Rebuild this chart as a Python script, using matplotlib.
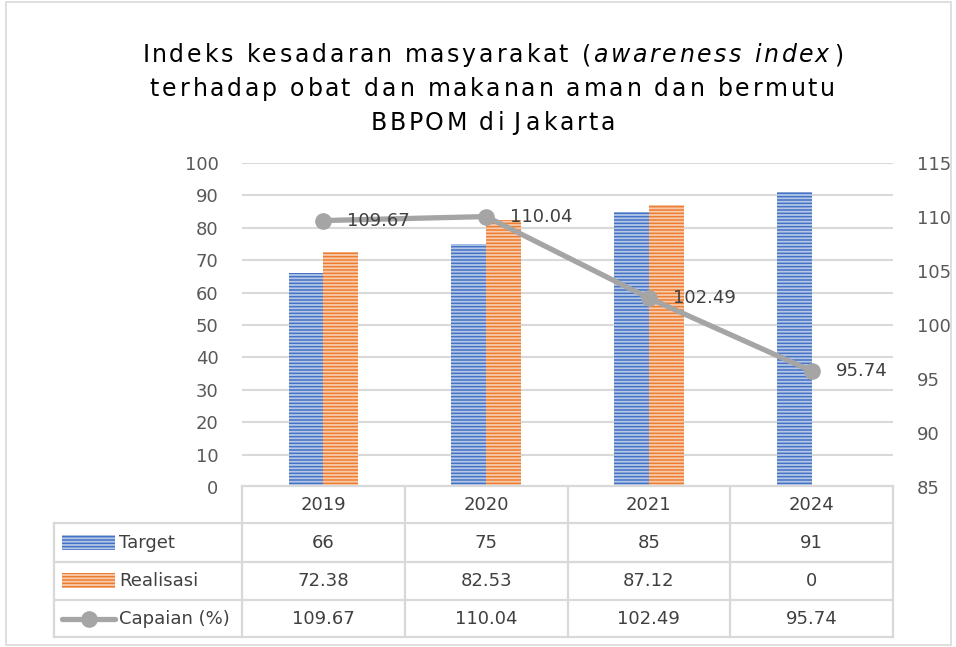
import matplotlib
matplotlib.use('Agg')
import matplotlib.pyplot as plt
from matplotlib.patches import Rectangle
from matplotlib.lines import Line2D
from matplotlib.font_manager import FontProperties, findfont
from matplotlib.ft2font import FT2Font

years = ['2019', '2020', '2021', '2024']
target = [66, 75, 85, 91]
realisasi = [72.38, 82.53, 87.12, 0]
capaian = [109.67, 110.04, 102.49, 95.74]
row_names = ['Target', 'Realisasi', 'Capaian (%)']
title_lines = [[('Indeks kesadaran masyarakat (', False), ('awareness index', True), (')', False)],
               [('terhadap obat dan makanan aman dan bermutu', False)],
               [('BBPOM di Jakarta', False)]]

W, H = 956, 647
BLUE, BLUE_H = '#4472C4', '#B4C7E7'
ORANGE, ORANGE_H = '#ED7D31', '#F8CBAD'
GRAY = '#A5A5A5'
GRID = '#D9D9D9'
TXT = '#404040'

plt.rcParams['font.family'] = ['DejaVu Sans']
plt.rcParams['hatch.linewidth'] = 1.3


def fx(x):
    return x / W


def fy(y):
    return 1 - y / H


def tracked_line(fig, segments, cx, baseline, size, width):
    # excel title has expanded letter spacing, spread the glyphs out by hand
    fonts = {}
    for it in (False, True):
        f = FT2Font(findfont(FontProperties(family='DejaVu Sans',
                                            style='italic' if it else 'normal')))
        f.set_size(size, 100)
        fonts[it] = f
    chars = [(ch, it) for s, it in segments for ch in s]
    adv = []
    bear = []
    for ch, it in chars:
        g = fonts[it].load_char(ord(ch))
        adv.append(g.linearHoriAdvance / 65536)
        bear.append(g.horiBearingX / 64)
    natural = sum(adv)
    track = (width - natural) / (len(chars) - 1)
    return track, chars, adv, bear


fig = plt.figure(figsize=(W / 100, H / 100), dpi=100)

# plot area in pixels
left, right, top, bottom = 242, 893, 163, 487
ax = fig.add_axes([fx(left), fy(bottom), (right - left) / W, (bottom - top) / H])
ax2 = ax.twinx()

x = list(range(len(years)))
bw = 0.213
ax.bar([i - bw / 2 for i in x], target, width=bw, color=BLUE, edgecolor=BLUE_H,
       hatch='-----', linewidth=0, zorder=2)
ax.bar([i + bw / 2 for i in x], realisasi, width=bw, color=ORANGE, edgecolor=ORANGE_H,
       hatch='-----', linewidth=0, zorder=2)

ax.set_xlim(-0.5, len(years) - 0.5)
ax.set_ylim(0, 100)
ax.set_yticks(range(0, 101, 10))
ax.yaxis.grid(True, color=GRID, linewidth=1.5, zorder=0)
ax.set_axisbelow(True)
ax.set_xticks([])
ax.tick_params(axis='y', length=0, pad=17, labelsize=13, labelcolor='#595959')

ax2.plot(x, capaian, color=GRAY, linewidth=3.8, marker='o', markersize=11,
         solid_capstyle='round')
ax2.set_ylim(85, 115)
ax2.set_yticks(range(85, 116, 5))
ax2.tick_params(axis='y', length=0, pad=17, labelsize=13, labelcolor='#595959')
for i, v in enumerate(capaian):
    ax2.annotate(f'{v:.2f}', (i, v), xytext=(24, 0), textcoords='offset pixels',
                 ha='left', va='center', fontsize=13, color=TXT)

for a in (ax, ax2):
    for s in a.spines.values():
        s.set_visible(False)

# data table under the axis
col_x = [left + (right - left) * k / len(years) for k in range(len(years) + 1)]
row_y = [486, 523, 562, 600, 637]
leg_left = 54
lw = 1.6
for cx in col_x:
    fig.add_artist(Line2D([fx(cx), fx(cx)], [fy(row_y[0]), fy(row_y[-1])],
                          color=GRID, linewidth=lw))
fig.add_artist(Line2D([fx(leg_left), fx(leg_left)], [fy(row_y[1]), fy(row_y[-1])],
                      color=GRID, linewidth=lw))
fig.add_artist(Line2D([fx(left), fx(right)], [fy(row_y[0]), fy(row_y[0])],
                      color=GRID, linewidth=lw))
for ry in row_y[1:]:
    fig.add_artist(Line2D([fx(leg_left), fx(right)], [fy(ry), fy(ry)],
                          color=GRID, linewidth=lw))

rows = [years, [f'{v:g}' for v in target], [f'{v:g}' for v in realisasi],
        [f'{v:.2f}' for v in capaian]]
for r, vals in enumerate(rows):
    cy = (row_y[r] + row_y[r + 1]) / 2
    for c, s in enumerate(vals):
        cx = (col_x[c] + col_x[c + 1]) / 2
        fig.text(fx(cx), fy(cy), s, ha='center', va='center', fontsize=13, color=TXT)

# legend keys in the first column
for r, name in enumerate(row_names):
    cy = (row_y[r + 1] + row_y[r + 2]) / 2
    if r < 2:
        fc, hc = (BLUE, BLUE_H) if r == 0 else (ORANGE, ORANGE_H)
        fig.add_artist(Rectangle((fx(62), fy(cy + 7)), (115 - 62) / W, 15 / H,
                                 transform=fig.transFigure, facecolor=fc,
                                 edgecolor=hc, hatch='-----', linewidth=0))
    else:
        fig.add_artist(Line2D([fx(62), fx(115)], [fy(cy), fy(cy)], color=GRAY,
                              linewidth=3.8, solid_capstyle='round'))
        fig.add_artist(Line2D([fx(88.5)], [fy(cy)], color=GRAY, marker='o',
                              markersize=11, linewidth=0))
    fig.text(fx(119), fy(cy), name, ha='left', va='center', fontsize=13, color=TXT)

# title, spacing taken from the first (widest) line
tsize = 17
track = tracked_line(fig, title_lines[0], 491, 62, tsize, 701)[0]
for k, segs in enumerate(title_lines):
    _, chars, adv, bear = tracked_line(fig, segs, 491, 62, tsize, 701)
    total = sum(adv) + track * (len(chars) - 1)
    pen = 491 - total / 2
    base = 62 + 34 * k
    for (ch, it), a, b in zip(chars, adv, bear):
        if ch != ' ':
            fig.text(fx(pen + b), fy(base), ch, ha='left', va='baseline',
                     fontsize=tsize, color='#000000',
                     fontstyle='italic' if it else 'normal')
        pen += a + track

# chart border
fig.add_artist(Rectangle((fx(6), fy(645)), (951 - 6) / W, (645 - 2) / H,
                         transform=fig.transFigure, fill=False, edgecolor=GRID,
                         linewidth=1.2))

fig.savefig('out.png', dpi=100)
